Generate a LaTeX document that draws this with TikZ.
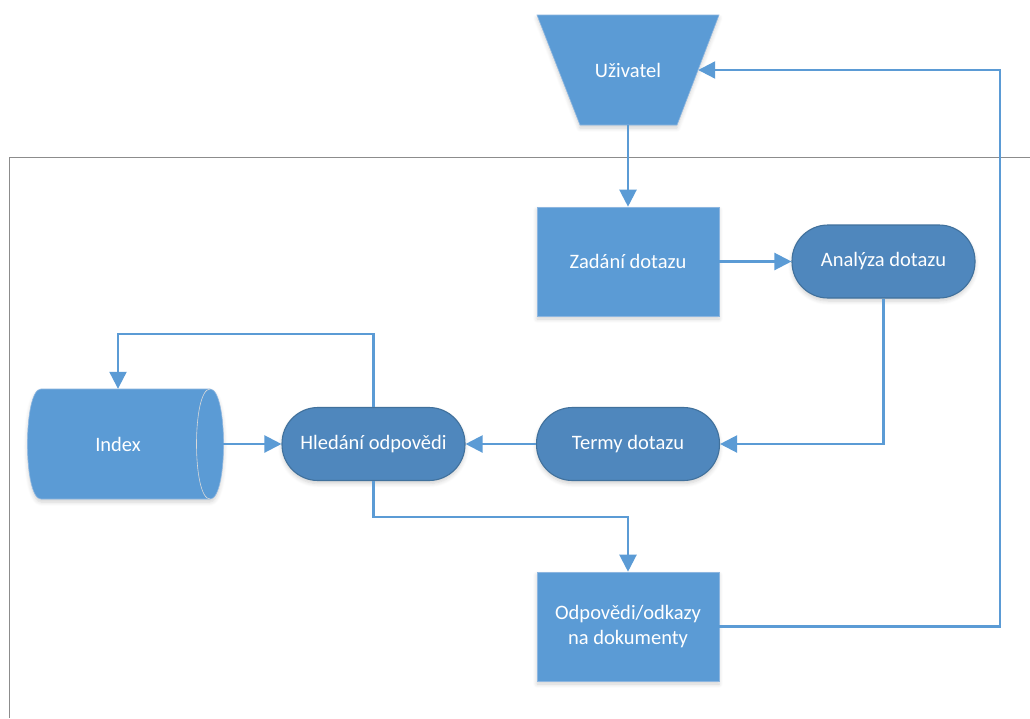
\documentclass[tikz,border=0pt]{standalone}
\usepackage{fontspec}
\setmainfont{Carlito}
\usetikzlibrary{arrows.meta,shadows.blur}

\definecolor{boxblue}{HTML}{5B9BD5}
\definecolor{boxedge}{HTML}{8DB6E0}
\definecolor{termblue}{HTML}{4F87BD}
\definecolor{termedge}{HTML}{41719C}
\definecolor{flowblue}{HTML}{5B9BD5}
\definecolor{framegray}{HTML}{8C8C8C}

\tikzset{
  softshadow/.style={blur shadow={shadow blur steps=6, shadow xshift=0pt,
      shadow yshift=-3pt, shadow blur radius=4pt, shadow opacity=18}},
  label/.style={text=white, font=\fontsize{20.5}{25}\selectfont, align=center},
  procbox/.style={label, rectangle, fill=boxblue, draw=boxedge, line width=0.6pt,
      minimum width=182, minimum height=109, inner sep=0pt, softshadow},
  termbox/.style={label, rectangle, rounded corners=36pt, fill=termblue,
      draw=termedge, line width=1.1pt, minimum width=183, minimum height=73,
      inner sep=0pt, softshadow},
  textonly/.style={label, rectangle, inner sep=0pt},
  flow/.style={draw=flowblue, line width=2.2pt,
      -{Triangle[length=17pt,width=17pt]}},
  frameline/.style={draw=framegray, line width=1pt}
}

\begin{document}
\begin{tikzpicture}[x=1pt, y=-1pt]
  \useasboundingbox (0,0) rectangle (1030,718);

  % system boundary
  \draw[frameline] (1030,157) -- (9.5,157) -- (9.5,718);

  % user: manual input trapezium, wide side up
  \path[fill=boxblue, draw=boxedge, line width=0.6pt, softshadow]
    (537,15) -- (719,15) -- (677,125) -- (580,125) -- cycle;
  \node[textonly, minimum width=140, minimum height=110] (user) at (628,70) {Uživatel};

  % processes
  \node[procbox] (query) at (628,261.5) {Zadání dotazu};
  \node[procbox] (answers) at (628,626.5) {Odpovědi/odkazy\\na dokumenty};

  % rounded steps
  \node[termbox] (analysis) at (883.5,261.5) {Analýza dotazu};
  \node[termbox] (terms) at (628,444) {Termy dotazu};
  \node[termbox] (search) at (373.5,444) {Hledání odpovědi};

  % index: horizontal storage cylinder
  \path[fill=boxblue, draw=boxedge, line width=0.6pt, softshadow]
    (41,389) -- (210,389)
    .. controls (228,389) and (228,499) .. (210,499)
    -- (41,499)
    .. controls (23,499) and (23,389) .. (41,389) -- cycle;
  \draw[draw=white!70!gray, line width=0.6pt]
    (210,389) .. controls (192,389) and (192,499) .. (210,499);
  \node[textonly, minimum width=210, minimum height=110] (index) at (118,444) {Index};

  % connectors
  \draw[flow] (user.south) -- (query.north);
  \draw[flow] (query.east) -- (analysis.west);
  \draw[flow] (analysis.south) |- (terms.east);
  \draw[flow] (terms.west) -- (search.east);
  \draw[flow] (index.east) -- (search.west);
  \draw[flow] (search.north) -- ++(0,-73) -| (index.north);
  \draw[flow] (search.south) -- ++(0,36) -| (answers.north);
  \draw[flow] (answers.east) -- (1000,626.5) -- (1000,70) -- (user.east);
\end{tikzpicture}
\end{document}
